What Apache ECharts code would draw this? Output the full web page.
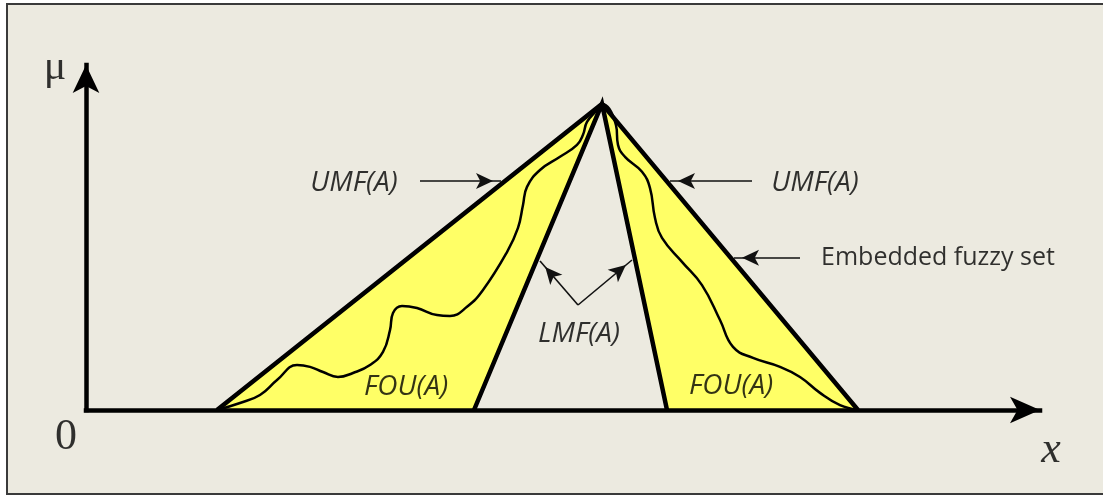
<!DOCTYPE html>
<html>
<head>
<meta charset="utf-8">
<script src="https://cdn.jsdelivr.net/npm/echarts@6/dist/echarts.min.js"></script>
<style>
    html, body { margin: 0; padding: 0; background: #fff; }
    #frame { position: absolute; left: 6px; top: 3px; width: 1110px; height: 488px; border: 2px solid #3a3a3a; background: #eceae0; }
    #main { position: absolute; left: 0; top: 0; width: 1103px; height: 495px; }
</style>
</head>
<body>
<div id="frame"></div>
<div id="main"></div>
<script>
// 横轴：原点右侧每 100px 记为 1；纵轴：隶属度 μ，顶点为 1
const umf = [[1.31, 0], [5.16, 1], [7.72, 0]];
const lmf = [[3.88, 0], [5.16, 1], [5.81, 0]];

// 嵌入模糊集（波浪线）
const embedded = [
    [1.31, 0], [1.54, 0.023], [1.74, 0.049], [1.91, 0.098], [2.11, 0.147],
    [2.24, 0.141], [2.37, 0.124], [2.52, 0.108], [2.67, 0.121], [2.84, 0.147],
    [2.97, 0.190], [3.04, 0.261], [3.07, 0.317], [3.16, 0.340], [3.31, 0.333],
    [3.51, 0.310], [3.64, 0.307], [3.81, 0.337], [3.97, 0.392], [4.21, 0.516],
    [4.32, 0.595], [4.37, 0.670], [4.41, 0.729], [4.54, 0.784], [4.74, 0.827],
    [4.91, 0.866], [4.97, 0.899], [5.01, 0.941], [5.11, 0.980], [5.16, 1],
    [5.30, 0.930], [5.32, 0.866], [5.39, 0.827], [5.56, 0.778], [5.64, 0.725],
    [5.69, 0.627], [5.76, 0.562], [5.96, 0.484], [6.16, 0.408], [6.34, 0.294],
    [6.47, 0.206], [6.67, 0.170], [6.94, 0.141], [7.14, 0.108], [7.34, 0.056],
    [7.54, 0.016], [7.72, 0]
];

// 标注箭头：[起点, 箭头端]
const arrowFrom = [[3.34, 0.748], [6.66, 0.748], [7.14, 0.497], [4.92, 0.343], [4.92, 0.343]];
const arrowTo = [[4.15, 0.748], [5.84, 0.748], [6.48, 0.497], [4.54, 0.487], [5.46, 0.490]];

// 文字标注
const noteText = ['UMF(A)', 'UMF(A)', 'Embedded fuzzy set', 'LMF(A)', 'FOU(A)', 'FOU(A)'];
const noteAt = [[2.68, 0.742], [7.29, 0.742], [8.52, 0.497], [4.93, 0.248], [3.20, 0.075], [6.45, 0.078]];
const axisText = ['0', 'x', 'μ'];
const axisTextAt = [[-0.20, -0.088], [9.65, -0.131], [-0.31, 1.118]];

const BG = '#eceae0';
const YELLOW = '#ffff66';

const chartInstance = echarts.init(document.getElementById('main'));

const axisLineStyle = { color: '#000', width: 4.5, cap: 'square' };

const noteData = noteText.map((t, i) => ({
    name: t,
    value: noteAt[i],
    label: {
        fontStyle: t.indexOf('Embedded') === 0 ? 'normal' : 'italic',
        fontSize: t.indexOf('Embedded') === 0 ? 25 : 28,
    },
}));
const axisData = axisText.map((t, i) => ({
    name: t,
    value: axisTextAt[i],
    label: {
        fontFamily: '"Liberation Serif", "DejaVu Serif", serif',
        fontStyle: t === 'x' ? 'italic' : 'normal',
        fontSize: t === 'μ' ? 42 : 44,
    },
}));

const option = {
    animation: false,
    grid: { left: 86, right: 63, top: 65, bottom: 85 },
    xAxis: {
        type: 'value',
        min: 0,
        max: 9.54,
        z: 10,
        axisLine: { show: true, onZero: false, symbol: ['none', 'arrow'], symbolSize: [20, 30], lineStyle: axisLineStyle },
        axisTick: { show: false },
        axisLabel: { show: false },
        splitLine: { show: false },
    },
    yAxis: {
        type: 'value',
        min: 0,
        max: 1.127,
        z: 10,
        axisLine: { show: true, onZero: false, symbol: ['none', 'arrow'], symbolSize: [20, 28], lineStyle: axisLineStyle },
        axisTick: { show: false },
        axisLabel: { show: false },
        splitLine: { show: false },
    },
    series: [
        {
            name: 'UMF fill',
            type: 'line',
            data: umf,
            symbol: 'none',
            z: 2,
            lineStyle: { width: 0, opacity: 0 },
            areaStyle: { color: YELLOW, opacity: 1 },
        },
        {
            name: 'LMF fill',
            type: 'line',
            data: lmf,
            symbol: 'none',
            z: 3,
            lineStyle: { width: 0, opacity: 0 },
            areaStyle: { color: BG, opacity: 1 },
        },
        {
            name: 'Embedded fuzzy set',
            type: 'line',
            data: embedded,
            symbol: 'none',
            smooth: 0.45,
            z: 4,
            lineStyle: { color: '#000', width: 2.5 },
            markLine: {
                silent: true,
                symbol: ['none', 'arrow'],
                symbolSize: [12, 17],
                symbolOffset: [0, [0, 8]],
                label: { show: false },
                lineStyle: { color: '#111', width: 1.6, type: 'solid' },
                data: arrowFrom.map((p, i) => [{ coord: p }, { coord: arrowTo[i] }]),
            },
        },
        {
            name: 'UMF',
            type: 'line',
            data: umf,
            symbol: 'none',
            z: 5,
            lineStyle: { color: '#000', width: 4.5, join: 'miter', miterLimit: 20 },
        },
        {
            name: 'LMF',
            type: 'line',
            data: lmf,
            symbol: 'none',
            z: 5,
            lineStyle: { color: '#000', width: 4.5, join: 'miter', miterLimit: 20 },
        },
        {
            name: 'notes',
            type: 'scatter',
            clip: false,
            z: 6,
            symbolSize: 1,
            itemStyle: { color: 'rgba(0,0,0,0)' },
            label: {
                show: true,
                position: 'inside',
                formatter: '{b}',
                color: '#000',
                fontFamily: '"Open Sans", "Noto Sans", sans-serif',
                align: 'center',
                verticalAlign: 'middle',
            },
            data: noteData.concat(axisData),
        },
    ],
};

chartInstance.setOption(option);
</script>
</body>
</html>
